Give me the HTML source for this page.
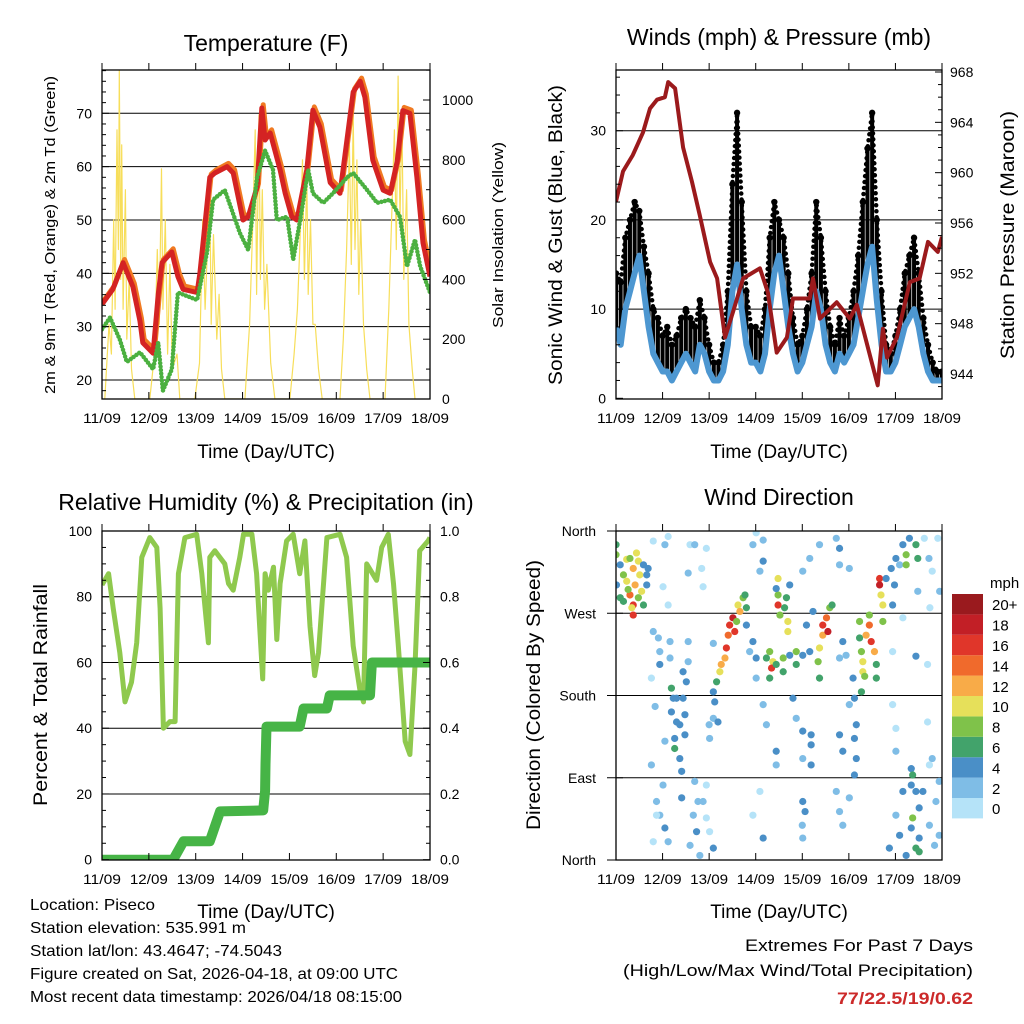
<!DOCTYPE html>
<html><head><meta charset="utf-8"><title>Piseco station meteogram: 11/09 to 18/09</title>
<style>
html,body{margin:0;padding:0;background:#fff;}
svg{display:block;font-family:"Liberation Sans",sans-serif;}
</style></head>
<body>
<svg id="fig" width="1024" height="1024" viewBox="0 0 1024 1024" xmlns="http://www.w3.org/2000/svg">
<rect width="1024" height="1024" fill="#fff"/>
<g id="p1"></g>
<g id="p2"></g>
<g id="p3"></g>
<g id="p4"></g>
<g font-size="16" fill="#000">
<text x="30" y="910" textLength="125" lengthAdjust="spacingAndGlyphs">Location: Piseco</text>
<text x="30" y="933" textLength="216" lengthAdjust="spacingAndGlyphs">Station elevation: 535.991 m</text>
<text x="30" y="956" textLength="252" lengthAdjust="spacingAndGlyphs">Station lat/lon: 43.4647; -74.5043</text>
<text x="30" y="979" textLength="368" lengthAdjust="spacingAndGlyphs">Figure created on Sat, 2026-04-18, at 09:00 UTC</text>
<text x="30" y="1002" textLength="372" lengthAdjust="spacingAndGlyphs">Most recent data timestamp: 2026/04/18 08:15:00</text>
</g>
<g text-anchor="end">
<text x="973" y="951" font-size="17" textLength="228" lengthAdjust="spacingAndGlyphs">Extremes For Past 7 Days</text>
<text x="973" y="976" font-size="17" textLength="350" lengthAdjust="spacingAndGlyphs">(High/Low/Max Wind/Total Precipitation)</text>
<text x="973" y="1004" font-size="17" font-weight="bold" fill="#cc2a2a" textLength="136" lengthAdjust="spacingAndGlyphs">77/22.5/19/0.62</text>
</g>
</svg>
<script>
// ---------- data ----------
const dayLabels = ["11/09","12/09","13/09","14/09","15/09","16/09","17/09","18/09"];
const tempTimes = [0,0.23,0.45,0.66,0.81,0.87,1.09,1.2,1.28,1.49,1.62,1.73,2.03,2.09,2.3,2.41,2.67,2.8,3.01,3.12,3.31,3.41,3.48,3.59,3.8,3.91,4.05,4.16,4.37,4.5,4.65,4.87,5.08,5.36,5.51,5.61,5.78,6.0,6.15,6.3,6.42,6.57,6.72,6.85,7];
const tempValues = [34.2,37,42,37.5,31,27,25,36,42,44,39.4,37,36.4,40,58,58.8,60,58.8,50,50.6,56.2,71,65,66.3,59.4,55,50.6,50,59.4,70.6,67.4,57,55,74,76,73,61.2,55.6,55,61,70.5,70,58,45.7,39.4];
const dewTimes = [0,0.17,0.38,0.53,0.81,1.09,1.2,1.3,1.49,1.62,2.03,2.24,2.37,2.62,2.94,3.12,3.31,3.48,3.65,3.73,3.95,4.08,4.23,4.4,4.5,4.72,4.93,5.23,5.36,5.66,5.87,6.15,6.36,6.51,6.68,6.79,7];
const dewValues = [29.5,31.7,27.6,23.4,25.2,22,27,18,22,36.4,35,43.9,53.8,55.6,47.6,44.4,58,63,59.4,50,50.6,42.6,50,59.4,55,53.2,55,58,58.8,55.6,53.2,53.8,50.6,41.3,46.3,41.3,36.4];
const solarTimes = [0.06,0.15,0.2,0.25,0.28,0.32,0.35,0.37,0.4,0.42,0.45,0.5,0.53,0.58,0.63,0.7,
 1.02,1.12,1.18,1.22,1.27,1.3,1.35,1.4,1.45,1.5,1.6,1.66,
 1.98,2.08,2.15,2.2,2.25,2.3,2.33,2.38,2.45,2.5,2.55,2.62,
 3.05,3.15,3.22,3.27,3.3,3.35,3.38,3.42,3.47,3.52,3.6,3.69,
 4.01,4.1,4.17,4.22,4.28,4.32,4.37,4.4,4.45,4.5,4.55,4.62,4.7,
 5.08,5.15,5.22,5.28,5.32,5.36,5.4,5.44,5.48,5.52,5.58,5.65,5.72,
 6.04,6.12,6.18,6.24,6.28,6.32,6.36,6.4,6.44,6.5,6.55,6.62,6.68];
const solarValues = [0,250,150,600,300,900,500,1100,400,850,300,700,200,400,100,0,
 0,150,500,250,770,300,600,150,450,100,150,0,
 0,120,600,300,500,700,250,550,200,350,100,0,
 0,250,600,900,350,950,400,700,300,450,120,0,
 0,150,300,500,800,400,750,350,600,250,250,100,0,
 0,200,500,850,450,950,500,800,350,600,250,100,0,
 0,300,600,900,500,1080,600,950,400,700,250,100,0];
const windTimes = [0,0.1,0.2,0.3,0.4,0.5,0.6,0.7,0.8,0.9,1.0,1.1,1.2,1.3,1.4,1.5,1.6,1.7,1.8,1.9,2.0,2.1,2.2,2.3,2.4,2.5,2.6,2.7,2.8,2.9,3.0,3.1,3.2,3.3,3.4,3.5,3.6,3.7,3.8,3.9,4.0,4.1,4.2,4.3,4.4,4.5,4.6,4.7,4.8,4.9,5.0,5.1,5.2,5.3,5.4,5.5,5.6,5.7,5.8,5.9,6.0,6.1,6.2,6.3,6.4,6.5,6.6,6.7,6.8,6.9,7.0];
const windValues = [8,6,10,12,14,16,12,8,5,4, 3,3,2,3,4,5,4,3,6,5, 3,2,2,3,6,12,15,10,6,4, 4,3,5,10,14,16,12,8,5,3, 4,6,8,12,10,6,4,3,5,4, 5,6,9,12,15,17,11,6,3,3, 4,6,8,9,10,8,5,3,2,2,2];
const gustValues = [14,13,18,20,22,21,17,14,10,9, 7,8,6,7,9,10,9,8,11,9, 6,4,4,6,12,24,32,22,12,8, 8,7,10,18,22,20,18,14,9,6, 7,10,14,22,18,12,8,6,9,7, 9,12,16,22,28,32,20,12,6,5, 7,10,14,16,18,14,9,6,4,3,3];
const presTimes = [0,0.15,0.36,0.58,0.73,0.88,1.05,1.12,1.27,1.44,1.63,1.8,2.02,2.17,2.34,2.51,2.73,3.09,3.26,3.45,3.67,3.8,4.16,4.23,4.38,4.74,5.02,5.17,5.62,5.73,5.82,6.03,6.31,6.52,6.7,6.91,7];
const presValues = [957.7,960.1,961.4,963.2,965.1,965.8,966,967.2,966.7,962,959.3,956.6,952.9,951.6,946.9,948.9,951.6,952.4,950.5,945.7,946.9,950,950,951.6,948.4,949.7,948.4,949.5,943.1,947.6,945.3,946.9,951.3,951.6,954.5,953.7,954.9];
const rhTimes = [0,0.14,0.24,0.38,0.49,0.63,0.74,0.85,1.02,1.17,1.24,1.31,1.45,1.56,1.63,1.77,2.02,2.13,2.27,2.3,2.41,2.62,2.7,2.8,2.94,3.02,3.2,3.3,3.43,3.48,3.55,3.66,3.73,3.8,3.94,4.08,4.22,4.33,4.44,4.54,4.62,4.8,5.08,5.22,5.36,5.5,5.58,5.65,5.86,5.97,6.11,6.22,6.32,6.47,6.57,6.68,6.78,6.96,7];
const rhValues = [83.6,87,76.5,63,48,54,66,92,98,95,76.5,40,42,42,87,98,99,87,66,92,94,90,84,82,92,99,99,87,55,87,82,89,67,84,97,99,87,97,71,56,63,98,99,92,65,52,48,90,85,95,99,84,66,36,32,59,94,97,98];
const precipTimes = [0,1.52,1.74,2.3,2.52,3.44,3.48,3.49,3.51,4.22,4.3,4.8,4.86,5.72,5.76,7];
const precipValues = [0,0,0.056,0.056,0.147,0.15,0.21,0.29,0.405,0.405,0.46,0.46,0.5,0.5,0.6,0.6];
const dirPoints = [
"0,345,6","0,334,8","0.09,323,4","0.23,329,10","0.44,336,10","0.3,330,8","0.16,312,8","0.23,305,10","0.37,319,12","0.48,327,10","0.51,312,10","0.3,290,14","0.37,279,16","0.37,268,17","0.34,276,10","0.16,283,6","0.55,294,10","0.59,279,6","0.66,312,4","0.66,301,4","0.01,301,4","0.09,287,6","0.41,301,12","0.26,296,8","0.48,287,8","0.59,323,4","0.69,319,4",
"0.8,349,0","1.12,354,0","1.05,345,2","1.59,345,0","1.69,345,2","1.94,341,0","1.01,299,0","1.12,279,0","1.55,314,2","1.87,299,0","1.84,319,0",
"0.8,250,2","0.91,243,2","0.94,228,2","0.94,214,4","1.16,239,2","1.16,221,2","1.55,239,2","1.55,217,2","0.76,199,0","0.84,168,2",
"1.23,177,4","1.3,177,4","1.44,177,4","1.19,188,6","1.3,151,4","1.37,148,4","1.26,133,4","1.26,122,6","1.37,111,4","1.41,97,4","1.48,159,4","1.48,137,4","1.51,195,4","1.19,162,4","1.44,206,4","1.05,130,2",
"0.8,20,0","1.01,82,2","0.87,64,2","0.94,49,2","1.05,35,4","1.12,20,2","1.69,86,2","1.76,64,2","1.66,49,2","1.73,31,4","1.59,16,2","1.94,82,0","1.87,64,2","1.94,46,0","2.01,31,0","2.09,13,4","1.8,5,2","0.76,104,2","0.87,49,0","1.41,68,4",
"2.01,133,2","2.09,155,2","2.12,173,4","2.09,184,4","2.16,195,6","2.19,151,4","2.0,148,2","2.09,237,2",
"2.23,206,10","2.26,214,12","2.34,221,12","2.37,232,16","2.41,246,14","2.44,257,17","2.51,265,18","2.55,250,16","2.62,279,10","2.66,272,12","2.73,287,8","2.77,290,6","2.8,257,4","2.8,276,6","2.59,261,8",
"2.94,239,4","3.01,221,4","2.87,228,2","3.09,316,2","3.16,327,4","2.94,345,2","3.01,358,0","3.16,350,2","3.01,199,2","3.16,170,2","3.23,148,2","3.09,75,0","2.94,49,0","3.16,24,4",
"3.23,221,6","3.3,228,8","3.37,217,10","3.34,210,16","3.44,214,6","3.59,206,6","3.59,221,8","3.73,224,4","3.87,214,6","3.87,228,8","3.3,199,6",
"3.48,308,10","3.48,290,8","3.66,287,6","3.48,279,16","3.52,268,8","3.69,261,10","3.69,250,10","3.62,276,6","3.44,297,4","3.73,301,4",
"3.44,119,4","3.44,104,2","3.8,177,4","3.87,155,2","4.01,141,4","4.19,137,4","4.19,126,4","4.19,104,4","4.01,111,2","4.01,64,4","4.06,53,4","4.0,38,2","4.01,24,2","4.16,330,2","4.01,316,2","4.37,345,2",
"4.01,224,4","4.16,228,4","4.09,257,4","4.23,272,4",
"4.37,232,10","4.44,246,12","4.44,257,16","4.52,265,14","4.55,250,18","4.59,276,8","4.64,279,6","4.34,217,8","4.37,199,6",
"4.8,221,2","4.87,239,4","4.94,224,2","4.8,323,2","5.01,319,2","4.73,352,2","4.8,341,4","4.8,137,4","4.87,119,4","4.73,75,2","4.8,53,2","4.87,38,2","5.01,170,2","5.09,199,4","5.12,177,4","5.16,148,4","5.12,133,4","5.16,111,4","5.12,93,4","5.01,68,2",
"5.23,261,8","5.23,243,6","5.27,228,8","5.3,217,10","5.37,246,12","5.44,257,14","5.48,239,16","5.55,228,12","5.59,214,6","5.3,206,10","5.34,201,8","5.27,184,6","5.44,268,8","5.59,199,6",
"5.66,308,16","5.66,301,18","5.69,290,10","5.73,279,10","5.8,308,4","5.91,319,4","5.98,301,4","5.94,279,4","6.01,330,4","6.09,323,2","5.73,261,8",
"6.23,334,8","6.23,323,8","6.16,345,4","6.3,352,4","6.44,345,6","6.48,330,6","6.48,294,2","6.62,352,0","6.72,330,2","6.79,316,0","6.91,352,0","6.74,276,0","6.95,294,2","6.16,265,0","5.94,228,0","6.44,223,4","6.69,214,0","5.94,170,0","6.01,144,0","6.01,119,2","6.69,151,0","6.79,111,2",
"6.34,100,4","6.37,93,6","6.34,82,4","6.44,75,4","6.59,75,4","6.51,57,4","6.37,46,8","6.34,35,4","6.51,24,4","6.44,13,6","6.51,9,6","6.73,38,2","6.87,64,2","6.94,86,2","6.94,27,2","6.16,75,4","6.01,49,2","6.09,27,4","5.87,13,4","6.23,5,4","6.73,104,0","6.84,16,2"
];
const speedLabels = ["0","2","4","6","8","10","12","14","16","18","20+"];
const speedColors = ["#b5e3f8","#7fbde6","#4a8fc7","#42a36b","#7fc24a","#e6e05a","#f8ab48","#f06a2c","#e0362a","#c21f26","#9a1a1e"];

// ---------- helpers ----------
const NS = "http://www.w3.org/2000/svg";
function mk(parent, tag, attrs, text){
  const e = document.createElementNS(NS, tag);
  for (const k in attrs) e.setAttribute(k, attrs[k]);
  if (text !== undefined) e.textContent = text;
  parent.appendChild(e);
  return e;
}
function lin(d0,d1,r0,r1){ return v => r0 + (v-d0)*(r1-r0)/(d1-d0); }
function pathFrom(ts, vs, sx, sy){
  return ts.map((t,i)=>(i?"L":"M")+sx(t).toFixed(1)+","+sy(vs[i]).toFixed(1)).join("");
}

function frame(g, L, T, R, B, sx, xTitleY){
  dayLabels.forEach((lab,i)=>{
    const x = sx(i);
    const tk = mk(g,"line",{x1:x,y1:B,x2:x,y2:B-7,stroke:"#000","stroke-width":1});
    
    
    const tk2 = mk(g,"line",{x1:x,y1:T,x2:x,y2:T-7,stroke:"#000","stroke-width":1});
    
    
    const tx = mk(g,"text",{x:x,y:B+24,"font-size":14,"text-anchor":"middle",textLength:38,lengthAdjust:"spacingAndGlyphs"},lab);
    
    
  });
  const xt = mk(g,"text",{x:(L+R)/2,y:xTitleY,"font-size":19,"text-anchor":"middle"},"Time (Day/UTC)");
  
  
}
function border(g,L,T,R,B){
  const r = mk(g,"rect",{x:L,y:T,width:R-L,height:B-T,fill:"none",stroke:"#000","stroke-width":1.3});
  
  
}
function grid(g,L,R,y){
  const l = mk(g,"line",{x1:L,x2:R,y1:y,y2:y,stroke:"#000","stroke-width":1});
  
  
}
function yTick(g,x,y,dir,len){
  const l = mk(g,"line",{x1:x,x2:x+dir*len,y1:y,y2:y,stroke:"#000","stroke-width":1});
  
  
}
function label(g,x,y,txt,anchor,size,name){
  const t = mk(g,"text",{x:x,y:y,"font-size":size,"text-anchor":anchor},txt);
  
  
  return t;
}
function rotLabel(g,x,y,txt,size,name,len){
  const a = {x:0,y:0,"font-size":size,"text-anchor":"middle",transform:`translate(${x},${y}) rotate(-90)`};
  if (len){ a.textLength=len; a.lengthAdjust="spacingAndGlyphs"; }
  const t = mk(g,"text",a,txt);
  
  
}

// ---------- Panel 1: Temperature ----------
(function(){
  const g = document.getElementById("p1");
  const L=102,R=430,T=70,B=399;
  const sx = lin(0,7,L,R);
  const sy = lin(20,70,380,113.3);
  const sr = lin(0,1000,399,100);
  label(g,266,51,"Temperature (F)","middle",23,"chart-title");
  const cp = mk(g,"clipPath",{id:"c1"}); mk(cp,"rect",{x:L,y:T,width:R-L,height:B-T});
  const pg = mk(g,"g",{"clip-path":"url(#c1)"});
  
  
  [20,30,40,50,60,70].forEach(v=>grid(pg,L,R,sy(v)));
  const sol = mk(pg,"path",{d:pathFrom(solarTimes,solarValues,sx,sr),fill:"none",stroke:"#f7de5a","stroke-width":1.2,"stroke-linejoin":"round"});
  
  
  const tOr = tempTimes.map(t=>t+0.03);
  const tOv = tempValues.map(v=>v+0.6);
  const or = mk(pg,"path",{d:pathFrom(tOr,tOv,sx,sy),fill:"none",stroke:"#f07a22","stroke-width":5,"stroke-linejoin":"round"});
  
  
  const red = mk(pg,"path",{d:pathFrom(tempTimes,tempValues,sx,sy),fill:"none",stroke:"#d42323","stroke-width":5,"stroke-linejoin":"round"});
  
  
  const dew = mk(pg,"path",{d:pathFrom(dewTimes,dewValues,sx,sy),fill:"none",stroke:"#4bb040","stroke-width":4.5,"stroke-dasharray":"0 3.5","stroke-linecap":"round"});
  
  
  border(g,L,T,R,B);
  for(let v=18; v<=78; v+=2){ if(sy(v)>T&&sy(v)<B) yTick(g,L,sy(v),1,v%10===0?7:4); }
  [20,30,40,50,60,70].forEach(v=>label(g,L-10,sy(v)+5,String(v),"end",14,"y-tick-label"));
  for(let v=0; v<=1100; v+=100){ yTick(g,R,sr(v),-1,v%200===0?7:4); }
  [0,200,400,600,800,1000].forEach(v=>label(g,R+12,sr(v)+5,String(v),"start",14,"y2-tick-label"));
  frame(g,L,T,R,B,sx,458);
  rotLabel(g,55,235,"2m & 9m T (Red, Orange) & 2m Td (Green)",15,"y-axis-title",318);
  rotLabel(g,503,235,"Solar Insolation (Yellow)",15,"y2-axis-title",186);
})();

// ---------- Panel 2: Winds ----------
(function(){
  const g = document.getElementById("p2");
  const L=616,R=942,T=70,B=399;
  const sx = lin(0,7,L,R);
  const sy = lin(0,30,398.3,130.7);
  const sp = lin(944,968,374,72);
  label(g,779,45,"Winds (mph) & Pressure (mb)","middle",23,"chart-title");
  const cp = mk(g,"clipPath",{id:"c2"}); mk(cp,"rect",{x:L,y:T,width:R-L,height:B-T});
  const pg = mk(g,"g",{"clip-path":"url(#c2)"});
  
  
  [10,20,30].forEach(v=>grid(pg,L,R,sy(v)));
  windTimes.forEach((t,i)=>{
    const b = mk(pg,"line",{x1:sx(t),x2:sx(t),y1:sy(windValues[i]),y2:sy(gustValues[i]),stroke:"#000","stroke-width":4,"stroke-linecap":"round"});
    
    
    const c = mk(pg,"circle",{cx:sx(t),cy:sy(gustValues[i]),r:3.2,fill:"#000"});
    
    
  });
  const gl = mk(pg,"path",{d:pathFrom(windTimes,gustValues,sx,sy),fill:"none",stroke:"#000","stroke-width":4.5,"stroke-dasharray":"0 6","stroke-linecap":"round"});
  
  
  const wl = mk(pg,"path",{d:pathFrom(windTimes,windValues,sx,sy),fill:"none",stroke:"#4d97d1","stroke-width":6,"stroke-linejoin":"round"});
  
  
  const pl = mk(pg,"path",{d:pathFrom(presTimes,presValues,sx,sp),fill:"none",stroke:"#9b1a1c","stroke-width":4,"stroke-linejoin":"round"});
  
  
  border(g,L,T,R,B);
  for(let v=0; v<=36; v+=2){ yTick(g,L,sy(v),1,v%10===0?7:4); }
  [0,10,20,30].forEach(v=>label(g,L-10,sy(v)+5,String(v),"end",14,"y-tick-label"));
  for(let v=942; v<=968; v+=1){ if(sp(v)>=T&&sp(v)<=B) yTick(g,R,sp(v),-1,v%4===0?7:4); }
  [944,948,952,956,960,964,968].forEach(v=>label(g,R+8,sp(v)+5,String(v),"start",14,"y2-tick-label"));
  frame(g,L,T,R,B,sx,458);
  rotLabel(g,562,235,"Sonic Wind & Gust (Blue, Black)",19,"y-axis-title",300);
  rotLabel(g,1014,235,"Station Pressure (Maroon)",19,"y2-axis-title",248);
})();

// ---------- Panel 3: RH & Precip ----------
(function(){
  const g = document.getElementById("p3");
  const L=102,R=430,T=531,B=860;
  const sx = lin(0,7,L,R);
  const sy = lin(0,100,859.7,531);
  const sr = lin(0,1,859.7,531);
  label(g,266,510,"Relative Humidity (%) & Precipitation (in)","middle",23,"chart-title");
  const cp = mk(g,"clipPath",{id:"c3"}); mk(cp,"rect",{x:L,y:T,width:R-L,height:B-T});
  const pg = mk(g,"g",{"clip-path":"url(#c3)"});
  
  
  [20,40,60,80].forEach(v=>grid(pg,L,R,sy(v)));
  const rh = mk(pg,"path",{d:pathFrom(rhTimes,rhValues,sx,sy),fill:"none",stroke:"#8fc94e","stroke-width":5,"stroke-linejoin":"round"});
  
  
  const pr = mk(pg,"path",{d:pathFrom(precipTimes,precipValues,sx,sr),fill:"none",stroke:"#46b446","stroke-width":10,"stroke-linecap":"round","stroke-linejoin":"round"});
  
  
  border(g,L,T,R,B);
  for(let v=0; v<=100; v+=5){ yTick(g,L,sy(v),1,v%20===0?7:4); }
  [0,20,40,60,80,100].forEach(v=>label(g,L-10,sy(v)+5,String(v),"end",14,"y-tick-label"));
  for(let v=0; v<=1.0001; v+=0.05){ yTick(g,R,sr(v),-1,Math.round(v*100)%20===0?7:4); }
  [0,0.2,0.4,0.6,0.8,1.0].forEach(v=>label(g,R+10,sr(v)+5,v.toFixed(1),"start",14,"y2-tick-label"));
  frame(g,L,T,R,B,sx,918);
  rotLabel(g,47,695,"Percent & Total Rainfall",19,"y-axis-title",222);
})();

// ---------- Panel 4: Wind direction ----------
(function(){
  const g = document.getElementById("p4");
  const L=616,R=942,T=531,B=860;
  const sx = lin(0,7,L,R);
  const sy = lin(0,360,860,531);
  label(g,779,505,"Wind Direction","middle",23,"chart-title");
  const cp = mk(g,"clipPath",{id:"c4"}); mk(cp,"rect",{x:L,y:T,width:R-L,height:B-T});
  const pg = mk(g,"g",{"clip-path":"url(#c4)"});
  
  
  [90,180,270].forEach(v=>grid(pg,L,R,sy(v)));
  dirPoints.forEach(s=>{
    const p = s.split(",").map(Number);
    const k = Math.min(10, Math.floor(p[2]/2));
    const c = mk(pg,"circle",{cx:sx(p[0]),cy:sy(p[1]),r:3.6,fill:speedColors[k]});
    
    
  });
  border(g,L,T,R,B);
  const dn = ["North","East","South","West","North"];
  [0,90,180,270,360].forEach((v,i)=>{
    yTick(g,L,sy(v),1,7);
    grid(g,L-9,L,sy(v));
    label(g,L-20,sy(v)+5,dn[i],"end",14,"y-tick-label");
  });
  frame(g,L,T,R,B,sx,918);
  rotLabel(g,540,695,"Direction (Colored By Speed)",19,"y-axis-title",270);
  const cb = mk(g,"g",{});
  
  
  const top=594, h=20.4;
  speedLabels.forEach((lab,i)=>{
    const y = top + (10-i)*h;
    const r = mk(cb,"rect",{x:952,y:y,width:31,height:h,fill:speedColors[i]});
    
    
    label(cb,992,y+h/2+6,lab,"start",15,"colorbar-label");
  });
  label(cb,990,588,"mph","start",15,"colorbar-unit");
})();
</script>
</body></html>
